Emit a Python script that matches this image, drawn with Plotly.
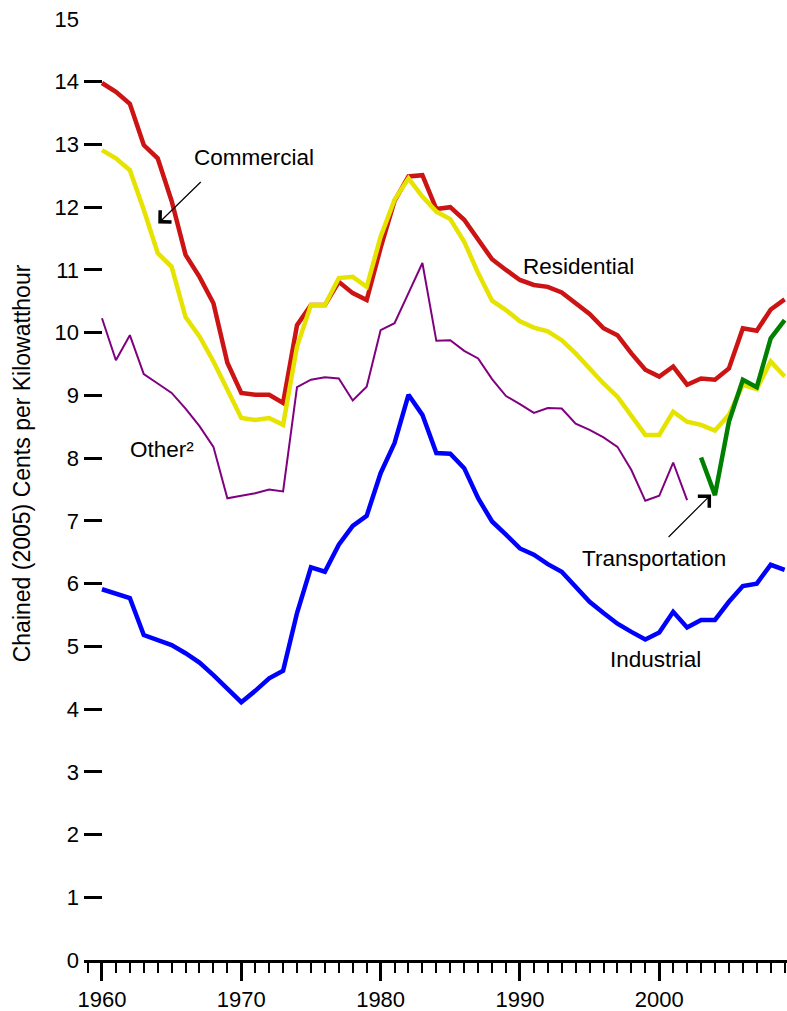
import plotly.graph_objects as go

years = list(range(1960, 2010))

residential = [13.98, 13.84, 13.65, 12.99, 12.78, 12.10, 11.24, 10.89, 10.47, 9.52,
               9.04, 9.01, 9.01, 8.88, 10.12, 10.44, 10.44, 10.81, 10.63, 10.52,
               11.35, 12.10, 12.49, 12.51, 11.97, 12.00, 11.80, 11.50, 11.17, 11.00,
               10.84, 10.76, 10.73, 10.64, 10.48, 10.30, 10.07, 9.96, 9.67, 9.41,
               9.30, 9.46, 9.17, 9.27, 9.25, 9.43, 10.07, 10.03, 10.37, 10.53]

commercial = [12.91, 12.78, 12.59, 11.96, 11.27, 11.05, 10.25, 9.94, 9.54, 9.09,
              8.64, 8.61, 8.64, 8.53, 9.78, 10.44, 10.44, 10.87, 10.89, 10.73,
              11.53, 12.12, 12.46, 12.17, 11.93, 11.81, 11.45, 10.95, 10.51, 10.36,
              10.18, 10.08, 10.02, 9.88, 9.67, 9.43, 9.19, 8.98, 8.66, 8.37,
              8.37, 8.74, 8.58, 8.53, 8.44, 8.69, 9.17, 9.10, 9.54, 9.30]

industrial = [5.91, 5.84, 5.77, 5.18, 5.10, 5.02, 4.89, 4.74, 4.54, 4.33,
              4.11, 4.29, 4.49, 4.61, 5.53, 6.26, 6.19, 6.62, 6.92, 7.08,
              7.76, 8.24, 9.01, 8.69, 8.08, 8.07, 7.84, 7.36, 6.99, 6.78,
              6.56, 6.46, 6.31, 6.19, 5.95, 5.71, 5.53, 5.36, 5.23, 5.11,
              5.22, 5.55, 5.30, 5.42, 5.42, 5.71, 5.96, 6.00, 6.30, 6.22]

other_years = list(range(1960, 2003))
other = [10.23, 9.56, 9.96, 9.34, 9.19, 9.04, 8.79, 8.51, 8.18, 7.36,
         7.40, 7.44, 7.50, 7.47, 9.13, 9.25, 9.29, 9.27, 8.92, 9.14,
         10.04, 10.15, 10.63, 11.11, 9.87, 9.88, 9.71, 9.59, 9.26, 8.99,
         8.86, 8.72, 8.80, 8.79, 8.55, 8.45, 8.33, 8.18, 7.81, 7.32,
         7.40, 7.93, 7.33]

transport_years = list(range(2003, 2010))
transportation = [8.01, 7.41, 8.58, 9.25, 9.13, 9.91, 10.20]

FONT = "Liberation Sans, Arial, sans-serif"

fig = go.Figure()

# draw order matters: yellow sits on top of red, green on top of yellow
fig.add_trace(go.Scatter(x=years, y=residential, mode="lines",
                         line=dict(color="#cc1414", width=4.5)))
fig.add_trace(go.Scatter(x=years, y=commercial, mode="lines",
                         line=dict(color="#e6e300", width=4.5)))
fig.add_trace(go.Scatter(x=other_years, y=other, mode="lines",
                         line=dict(color="#800080", width=2)))
fig.add_trace(go.Scatter(x=transport_years, y=transportation, mode="lines",
                         line=dict(color="#008000", width=4.5)))
fig.add_trace(go.Scatter(x=years, y=industrial, mode="lines",
                         line=dict(color="#0000ff", width=4.5)))

labels = [
    ("Commercial", 1970.93, 12.80),
    ("Residential", 1994.19, 11.05),
    ("Other²", 1964.34, 8.13),
    ("Transportation", 1999.63, 6.40),
    ("Industrial", 1999.75, 4.79),
]
for txt, x, y in labels:
    fig.add_annotation(x=x, y=y, text=txt, showarrow=False,
                       font=dict(family=FONT, size=22.5, color="black"))

# arrows
fig.add_annotation(x=1964.04, y=11.74, ax=44, ay=-43, text="", showarrow=True,
                   arrowhead=4, arrowsize=2.6, arrowwidth=1.2, arrowcolor="black")
fig.add_annotation(x=2003.72, y=7.42, ax=-44, ay=44, text="", showarrow=True,
                   arrowhead=4, arrowsize=2.6, arrowwidth=1.2, arrowcolor="black")

fig.add_annotation(x=-0.088, y=7.92, xref="paper", yref="y", xanchor="center",
                   yanchor="middle",
                   text="Chained (2005) Cents per Kilowatthour", textangle=-90,
                   showarrow=False, font=dict(family=FONT, size=23, color="black"))

fig.update_xaxes(range=[1958.71, 2009.17], tick0=1960, dtick=10,
                 ticks="outside", ticklen=18, tickwidth=2.5, tickcolor="black",
                 showline=True, linewidth=3, linecolor="black",
                 showgrid=False, zeroline=False,
                 minor=dict(dtick=1, ticks="outside", ticklen=10, tickwidth=2,
                            tickcolor="black", showgrid=False),
                 tickfont=dict(family=FONT, size=22, color="black"))
fig.update_yaxes(range=[0, 15], dtick=1, ticks="inside", ticklen=18, tickwidth=3,
                 tickcolor="black", showline=False, showgrid=False, zeroline=False,
                 ticklabelstandoff=4,
                 tickfont=dict(family=FONT, size=22, color="black"))

fig.update_layout(width=787, height=1011,
                  margin=dict(l=84, r=0, t=19, b=51),
                  plot_bgcolor="white", paper_bgcolor="white",
                  showlegend=False)

fig.write_html("out.html", config={"displayModeBar": False},
               post_script="document.body.style.margin='0';")
